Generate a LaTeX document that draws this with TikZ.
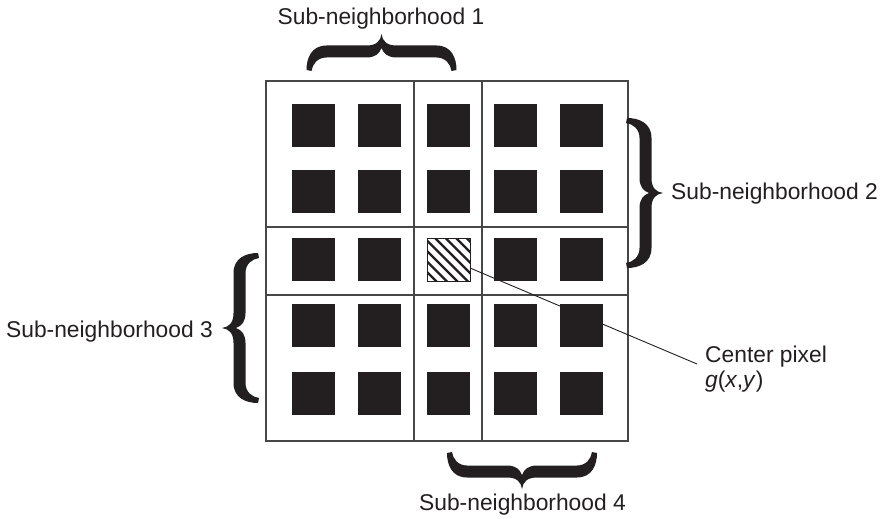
\documentclass[tikz,border=0pt]{standalone}
\usepackage{fontspec}
\setmainfont{Liberation Sans}
\definecolor{ink}{HTML}{231F20}
\begin{document}
\begin{tikzpicture}[x=1pt,y=-1pt,
  gridline/.style={draw=black!72, line width=1.3pt},
  pixel/.style={fill=ink, minimum size=43pt, inner sep=0pt, outer sep=0pt},
  hatchbox/.style={draw=ink, line width=1pt, minimum size=43pt, inner sep=0pt, outer sep=0pt},
  hatchline/.style={draw=ink, line width=2.2pt},
  leader/.style={draw=ink, line width=0.9pt},
  lbl/.style={font=\fontsize{22.8}{25}\selectfont, inner sep=0pt, text=ink},
  bracepic/.pic={
    \fill[ink] (-75,0) .. controls (-75,12) and (-70,24.5) .. (-55,24.5) -- (-15,24.5)
      .. controls (-5,24.5) and (-1,29) .. (0,36)
      .. controls (1,29) and (5,24.5) .. (15,24.5) -- (55,24.5)
      .. controls (70,24.5) and (75,12) .. (75,0) -- (70,-1)
      .. controls (69,6) and (64,12.5) .. (55,12.5) -- (15,12.5)
      .. controls (7,12.5) and (2,16) .. (0,22)
      .. controls (-2,16) and (-7,12.5) .. (-15,12.5) -- (-55,12.5)
      .. controls (-64,12.5) and (-69,6) .. (-70,-1) -- cycle;
  }
]
\useasboundingbox (0,0) rectangle (887,519);

% grid
\draw[gridline] (266,81) rectangle (628,441);
\draw[gridline] (414,81) -- (414,441);
\draw[gridline] (482,81) -- (482,441);
\draw[gridline] (266,227) -- (628,227);
\draw[gridline] (266,295) -- (628,295);

% pixels
\foreach \cx [count=\i] in {313.5,379.5,448.5,515.5,581.5}{
  \foreach \cy [count=\j] in {125.5,191.5,259.5,325.5,393.5}{
    \ifnum\i=3 \ifnum\j=3 \else
      \node[pixel] (s\i\j) at (\cx,\cy) {};
    \fi\else
      \node[pixel] (s\i\j) at (\cx,\cy) {};
    \fi
  }
}

% center pixel
\node[hatchbox] (c) at (448.5,259.5) {};
\begin{scope}
  \clip (c.south west) rectangle (c.north east);
  \foreach \k in {-6,...,5}{
    \draw[hatchline] ({385+10.5*\k},188) -- ({535+10.5*\k},338);
  }
\end{scope}
\node[hatchbox] at (c.center) {};

% braces
\pic[rotate=180] at (381.5,70) {bracepic};
\pic[rotate=90] at (627,193) {bracepic};
\pic[rotate=-90] at (258,328) {bracepic};
\pic at (522,453) {bracepic};

% labels
\node[lbl, anchor=base] (sn1) at (381,25) {Sub-neighborhood 1};
\node[lbl, anchor=base west] (sn2) at (671,199) {Sub-neighborhood 2};
\node[lbl, anchor=base east] (sn3) at (213,337) {Sub-neighborhood 3};
\node[lbl, anchor=base] (sn4) at (522.5,510) {Sub-neighborhood 4};
\node[lbl, anchor=base west] (cp) at (705,362) {Center pixel};
\node[lbl, anchor=base west] (gxy) at ([yshift=-25pt]cp.base west) {\textit{g}(\textit{x},\textit{y})};

% leader
\coordinate (lend) at (697,364);
\draw[leader] ([yshift=-8.5pt]c.east) -- (lend);
\end{tikzpicture}
\end{document}
